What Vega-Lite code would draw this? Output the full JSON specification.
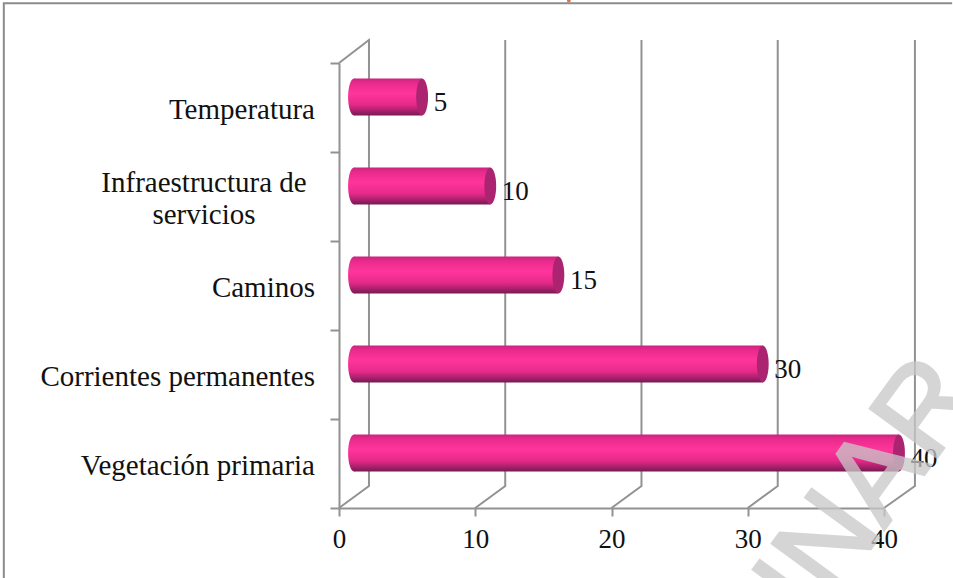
{
"$schema":"https://vega.github.io/schema/vega-lite/v6.json",
"width":545,"height":445,
"autosize":{"type":"none"},
"padding":{"left":339,"top":63,"right":69,"bottom":70},
"background":"white",
"view":{"stroke":null},
"datasets":{
 "bars":[
  {"category":"Temperatura","value":5,"pos":4.5,"base":0},
  {"category":"Infraestructura de \nservicios","value":10,"pos":3.5,"base":0},
  {"category":"Caminos","value":15,"pos":2.5,"base":0},
  {"category":"Corrientes permanentes","value":30,"pos":1.5,"base":0},
  {"category":"Vegetación primaria","value":40,"pos":0.5,"base":0}],
 "walls":[
  {"path":"g0","i":0,"x":0,"y":0},{"path":"g0","i":1,"x":2.2,"y":0.247},{"path":"g0","i":2,"x":2.2,"y":5.258},{"path":"g0","i":3,"x":0,"y":5},
  {"path":"g10","i":0,"x":10,"y":0},{"path":"g10","i":1,"x":12.2,"y":0.247},{"path":"g10","i":2,"x":12.2,"y":5.258},
  {"path":"g20","i":0,"x":20,"y":0},{"path":"g20","i":1,"x":22.2,"y":0.247},{"path":"g20","i":2,"x":22.2,"y":5.258},
  {"path":"g30","i":0,"x":30,"y":0},{"path":"g30","i":1,"x":32.2,"y":0.247},{"path":"g30","i":2,"x":32.2,"y":5.258},
  {"path":"g40","i":0,"x":40,"y":0},{"path":"g40","i":1,"x":42.27,"y":0.247},{"path":"g40","i":2,"x":42.27,"y":5.258}],
 "frame":[{"i":0,"x":-24.6,"y":-0.79},{"i":1,"x":-24.6,"y":5.67},{"i":2,"x":45,"y":5.67}],
 "mark":[{"x":47.2,"y":1.27,"label":"PRELIMINAR"}],
 "speck":[{"x":16.87,"y":5.7}]
},
"layer":[
 {"data":{"name":"walls"},"mark":{"type":"line","stroke":"#929292","strokeWidth":2,"interpolate":"linear"},
  "encoding":{"x":{"field":"x","type":"quantitative","scale":{"domain":[0,40],"nice":false,"zero":false,"padding":0},"axis":{"values":[0,10,20,30,40],"title":null,"grid":false,"domainColor":"#929292","domainWidth":2,"tickColor":"#929292","tickWidth":2,"tickSize":8,"labelFont":"Liberation Serif","labelFontSize":27,"labelColor":"#111111","labelPadding":10,"labelAngle":0,"labelFlush":false}},
   "y":{"field":"y","type":"quantitative","scale":{"domain":[0,5],"nice":false,"zero":false,"padding":0},"axis":{"values":[0,1,2,3,4,5],"title":null,"grid":false,"labels":false,"domainColor":"#929292","domainWidth":2,"tickColor":"#929292","tickWidth":2,"tickSize":9}},
   "detail":{"field":"path","type":"nominal"},
   "order":{"field":"i","type":"quantitative"}}},
 {"data":{"name":"bars"},
  "mark":{"type":"point","filled":true,"opacity":1,"size":1369,"xOffset":15,"yOffset":-10.5,"shape":"M0,-1A0.32,1 0 1 1 0,1A0.32,1 0 1 1 0,-1Z",
   "fill":{"gradient":"linear","x1":0,"y1":0,"x2":0,"y2":1,"stops":[{"offset":0,"color":"#c9247f"},{"offset":0.12,"color":"#e92a8c"},{"offset":0.4,"color":"#ff359c"},{"offset":0.7,"color":"#e62a8a"},{"offset":0.88,"color":"#a81f6a"},{"offset":1,"color":"#741a52"}]}},
  "encoding":{"x":{"field":"base","type":"quantitative"},"y":{"field":"pos","type":"quantitative"}}},
 {"data":{"name":"bars"},
  "mark":{"type":"bar","orient":"horizontal","size":37,"xOffset":15,"x2Offset":15,"yOffset":-10.5,
   "fill":{"gradient":"linear","x1":0,"y1":0,"x2":0,"y2":1,"stops":[{"offset":0,"color":"#c9247f"},{"offset":0.12,"color":"#e92a8c"},{"offset":0.4,"color":"#ff359c"},{"offset":0.7,"color":"#e62a8a"},{"offset":0.88,"color":"#a81f6a"},{"offset":1,"color":"#741a52"}]}},
  "encoding":{"x":{"field":"value","type":"quantitative"},"y":{"field":"pos","type":"quantitative"}}},
 {"data":{"name":"bars"},
  "mark":{"type":"point","filled":true,"opacity":1,"size":1369,"xOffset":15,"yOffset":-10.5,"shape":"M0,-1A0.32,1 0 1 1 0,1A0.32,1 0 1 1 0,-1Z","fill":"#ab2470"},
  "encoding":{"x":{"field":"value","type":"quantitative"},"y":{"field":"pos","type":"quantitative"}}},
 {"data":{"name":"bars"},
  "mark":{"type":"text","font":"Liberation Serif","fontSize":27,"fill":"#111111","align":"left","baseline":"middle","dx":26.5,"dy":-4.5},
  "encoding":{"x":{"field":"value","type":"quantitative"},"y":{"field":"pos","type":"quantitative"},"text":{"field":"value","type":"quantitative"}}},
 {"data":{"name":"bars"},"transform":[{"filter":"datum.pos != 3.5"}],
  "mark":{"type":"text","font":"Liberation Serif","fontSize":29,"fill":"#111111","align":"right","baseline":"middle","dx":-24,"dy":2},
  "encoding":{"x":{"field":"base","type":"quantitative"},"y":{"field":"pos","type":"quantitative"},"text":{"field":"category","type":"nominal"}}},
 {"data":{"name":"bars"},"transform":[{"filter":"datum.pos == 3.5"}],
  "mark":{"type":"text","font":"Liberation Serif","fontSize":29,"fill":"#111111","align":"center","baseline":"middle","dx":-135,"dy":-13.5,"lineBreak":"\n","lineHeight":32},
  "encoding":{"x":{"field":"base","type":"quantitative"},"y":{"field":"pos","type":"quantitative"},"text":{"field":"category","type":"nominal"}}},
 {"data":{"name":"mark"},"mark":{"type":"text","font":"Liberation Sans","fontSize":120,"fill":"#c8c8c8","stroke":"#c8c8c8","strokeWidth":3,"opacity":0.75,"align":"right","baseline":"alphabetic","angle":306},
  "encoding":{"x":{"field":"x","type":"quantitative"},"y":{"field":"y","type":"quantitative"},"text":{"field":"label","type":"nominal"}}},
 {"data":{"name":"speck"},"mark":{"type":"point","filled":true,"opacity":1,"size":14,"fill":"#e07050"},
  "encoding":{"x":{"field":"x","type":"quantitative"},"y":{"field":"y","type":"quantitative"}}},
 {"data":{"name":"frame"},"mark":{"type":"line","stroke":"#8c8c8c","strokeWidth":2},
  "encoding":{"x":{"field":"x","type":"quantitative"},"y":{"field":"y","type":"quantitative"},"order":{"field":"i","type":"quantitative"}}}
]
}
